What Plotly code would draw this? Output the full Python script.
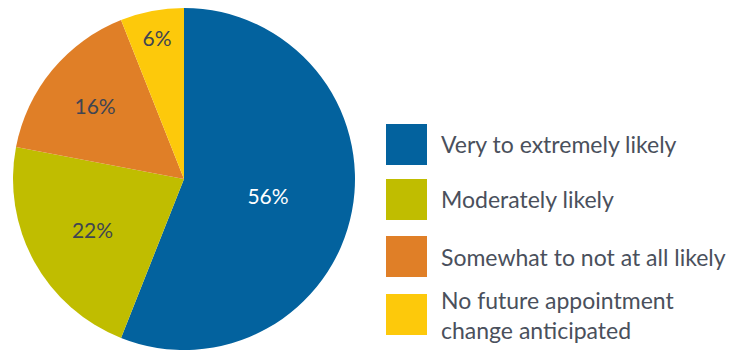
import plotly.graph_objects as go

labels = ["Very to extremely likely", "Moderately likely", "Somewhat to not at all likely",
          "No future appointment<br>change anticipated"]
values = [56, 22, 16, 6]
colors = ["#03629E", "#C0BD00", "#E07F27", "#FDC90B"]
text_colors = ["#FFFFFF", "#3F4552", "#3F4552", "#3F4552"]

W, H = 746, 350
FONT = "Lato"

fig = go.Figure(go.Pie(
    labels=labels,
    values=values,
    sort=False,
    direction="clockwise",
    rotation=0,
    marker=dict(colors=colors, line=dict(width=0)),
    texttemplate="%{value}%",
    textposition="inside",
    insidetextorientation="horizontal",
    textfont=dict(family=FONT, size=21, color=text_colors),
    domain=dict(x=[12 / W, 356 / W], y=[0, 342 / H]),
    showlegend=False,
    hoverinfo="label+percent",
))

# manual legend with large swatches
sq_top = [124, 179, 236, 294]
sq_size = 41
shapes, annotations = [], []
for lab, col, top in zip(labels, colors, sq_top):
    shapes.append(dict(type="rect", xref="paper", yref="paper",
                       x0=386 / W, x1=(386 + sq_size) / W,
                       y0=1 - (top + sq_size) / H, y1=1 - top / H,
                       fillcolor=col, line=dict(width=0)))
    annotations.append(dict(xref="paper", yref="paper", x=439 / W,
                            y=1 - (top + sq_size / 2) / H,
                            xanchor="left", yanchor="middle", showarrow=False,
                            text=lab, align="left",
                            font=dict(family=FONT, size=23, color="#4A505C")))

fig.update_layout(
    width=W, height=H,
    margin=dict(l=0, r=0, t=0, b=0),
    paper_bgcolor="white", plot_bgcolor="white",
    shapes=shapes, annotations=annotations,
)

fig.write_html("out.html", config={"displayModeBar": False},
               post_script="document.body.style.margin='0';document.body.style.overflow='hidden';")
